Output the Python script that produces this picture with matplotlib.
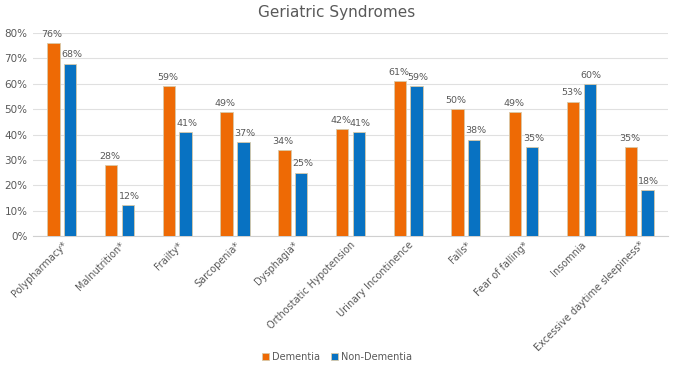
import matplotlib
matplotlib.use("Agg")
import matplotlib.pyplot as plt
import numpy as np
from matplotlib.ticker import PercentFormatter

categories = ["Polypharmacy*", "Malnutrition*", "Frailty*", "Sarcopenia*", "Dysphagia*",
              "Orthostatic Hypotension", "Urinary Incontinence", "Falls*", "Fear of falling*",
              "Insomnia", "Excessive daytime sleepiness*"]
dementia = [76, 28, 59, 49, 34, 42, 61, 50, 49, 53, 35]
non_dementia = [68, 12, 41, 37, 25, 41, 59, 38, 35, 60, 18]

orange = "#EE6A05"
blue = "#0872C2"
grey = "#595959"

fig = plt.figure(figsize=(6.74, 3.68), dpi=100)
ax = fig.add_axes([0.049, 0.359, 0.942, 0.551])

x = np.arange(len(categories))
w = 0.215
off = 0.145
b1 = ax.bar(x - off, [v / 100 for v in dementia], w, color=orange, edgecolor="#D9C9A8", linewidth=0.6, label="Dementia", zorder=3)
b2 = ax.bar(x + off, [v / 100 for v in non_dementia], w, color=blue, edgecolor="#D9C9A8", linewidth=0.6, label="Non-Dementia", zorder=3)

for rect, v in zip(b1, dementia):
    ax.annotate(f"{v}%", (rect.get_x() + rect.get_width() / 2, rect.get_height()),
                xytext=(-1, 3), textcoords="offset points", ha="center", va="bottom",
                fontsize=6.8, color=grey)
for rect, v in zip(b2, non_dementia):
    ax.annotate(f"{v}%", (rect.get_x() + rect.get_width() / 2, rect.get_height()),
                xytext=(1, 3), textcoords="offset points", ha="center", va="bottom",
                fontsize=6.8, color=grey)

ax.set_xlim(-0.5, len(categories) - 0.5)
ax.set_ylim(0, 0.8)
ax.set_yticks(np.arange(0, 0.81, 0.1))
ax.yaxis.set_major_formatter(PercentFormatter(1.0, decimals=0))
ax.grid(axis="y", color="#E0E0E0", linewidth=0.8, zorder=0)
for s in ["top", "right", "left"]:
    ax.spines[s].set_visible(False)
ax.spines["bottom"].set_color("#D0D0D0")
ax.tick_params(axis="y", length=0, labelsize=7.5, labelcolor=grey, pad=4)
ax.tick_params(axis="x", length=0, labelsize=7, labelcolor=grey, pad=3)
ax.set_xticks(x)
ax.set_xticklabels(categories, rotation=45, ha="right", rotation_mode="anchor")

fig.text(0.5, 0.967, "Geriatric Syndromes", ha="center", va="center", fontsize=11, color=grey)
fig.legend(handles=[b1, b2], loc="center", bbox_to_anchor=(0.5, 0.03), ncol=2, frameon=False,
           fontsize=7, labelcolor=grey, handlelength=0.7, handleheight=0.7, columnspacing=1.2,
           handletextpad=0.3)

fig.savefig("out.png", dpi=100)
